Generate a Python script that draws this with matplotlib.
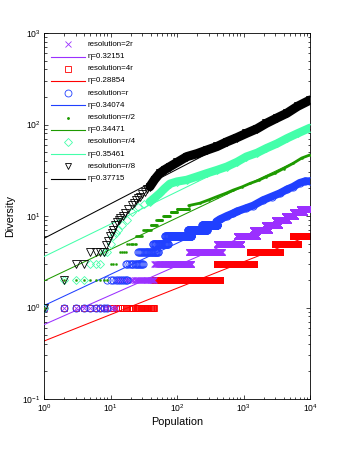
import numpy as np
import matplotlib
matplotlib.use('Agg')
import matplotlib.pyplot as plt
from matplotlib.ticker import LogLocator, NullFormatter

plt.rcParams['font.family'] = ['Liberation Sans', 'DejaVu Sans']
plt.rcParams['mathtext.fontset'] = 'custom'
plt.rcParams['mathtext.rm'] = 'Liberation Sans'

# ---------------- data ----------------
# step parts: diversity level and the first / last population showing that level
red_levels = [1, 2, 3, 4, 5, 6]
red_first = [1, 45, 400, 1250, 3000, 5500]
red_last = [45, 450, 1450, 3600, 6500, 10000]

purple_levels = [1, 2, 3, 4, 5, 6, 7, 8, 9, 10, 11, 12]
purple_first = [1, 12, 45, 150, 400, 800, 1400, 2100, 3000, 4200, 5500, 7000]
purple_last = [12, 45, 165, 470, 920, 1600, 2400, 3400, 4600, 6000, 8000, 10000]

blue_levels = [1, 2, 3, 4, 5, 6, 7, 8]
blue_first = [1, 9, 17, 26, 43, 66, 146, 240]
blue_last = [9, 18, 31, 52, 73, 165, 280, 400]
blue_trail_N = [390, 440, 560, 700, 790, 1100, 1400, 1970, 2660, 3500, 4500, 5600, 7000, 8500, 10000]
blue_trail_D = [8.7, 9.2, 10.0, 10.7, 11.2, 12.2, 13.0, 14.9, 16.3, 17.7, 19.5, 20.9, 23.0, 24.0, 24.0]

green_levels = [1, 2, 3, 4, 5, 6, 7, 8, 9, 10, 11, 12]
green_first = [1, 2, 10, 14, 18, 24, 31, 40, 49, 62, 80, 100]
green_last = [1, 9, 12, 17, 24, 30, 40, 50, 60, 78, 100, 150]
green_trail_N = [150, 220, 300, 400, 550, 700, 950, 1250, 1700, 2200, 3000, 4000, 5600, 7500, 10000]
green_trail_D = [13.0, 13.8, 15.0, 16.3, 17.8, 19.2, 20.8, 22.7, 24.6, 26.9, 29.5, 33.0, 37.7, 43.0, 46.5]

cyan_levels = [1, 2, 3, 4, 5, 6]
cyan_first = [1, 2, 5, 8, 10, 11]
cyan_last = [1, 4, 7, 9, 10, 11]
cyan_trail_N = [12, 13, 15, 17.5, 21, 26, 32, 39, 47, 55, 65, 78, 100, 140, 200, 280, 400, 560, 800, 1100, 1600, 2200, 3200, 4500, 6500, 10000]
cyan_trail_D = [6.5, 7.0, 8.0, 9.0, 11.0, 12.6, 13.5, 14.3, 16.0, 17.7, 20.0, 22.5, 23.8, 24.8, 27.0, 29.3, 31.8, 34.6, 39.0, 44.5, 49.0, 55.0, 62.0, 70.6, 80.0, 92.0]

black_levels = [1, 2, 3, 4]
black_first = [1, 2, 3, 5]
black_last = [1, 2, 4, 8]
black_trail_N = [8.7, 9.3, 9.8, 10.4, 11, 11.7, 12.4, 13.2, 14, 15.2, 16.5, 18.5, 20.8, 22.5, 24, 26, 27.7, 30, 33, 36, 39, 46, 55, 65, 78, 100, 140, 200, 280, 400, 560, 800, 1100, 1600, 2200, 3200, 4500, 6500, 10000]
black_trail_D = [4.8, 5.3, 6.0, 6.5, 7.1, 7.9, 8.7, 9.0, 9.5, 10.0, 10.7, 12.0, 13.2, 14.0, 15.0, 15.7, 16.3, 17.5, 18.5, 19.8, 20.9, 25.0, 29.3, 32.0, 34.6, 38.5, 44.5, 48.0, 52.5, 57.5, 64.6, 72.0, 80.0, 90.0, 103.0, 118.0, 133.0, 158.0, 185.0]

# fitted power laws: exponent (from legend) and prefactor at population 1
labels = ['resolution=2r', 'resolution=4r', 'resolution=r', 'resolution=r/2', 'resolution=r/4', 'resolution=r/8']
eta = [0.32151, 0.28854, 0.34074, 0.34471, 0.35461, 0.37715]
prefactor = [0.65, 0.43, 1.05, 1.95, 3.6, 5.7]

# ---------------- styles ----------------
C_PURPLE = '#9B30FF'
C_RED = '#FF0000'
C_BLUE = '#2040FF'
C_GREEN = '#1E9A00'
C_CYAN = '#44FFAA'
C_BLACK = '#000000'

W, H = 342, 449
fig = plt.figure(figsize=(W / 100, H / 100), dpi=100)
L, R, T, B = 44, 310, 33, 399
ax = fig.add_axes([L / W, 1 - B / H, (R - L) / W, (B - T) / H])
ax.set_xscale('log')
ax.set_yscale('log')
ax.set_xlim(1, 1e4)
ax.set_ylim(0.1, 1000)


def steps(levels, first, last):
    xs, ys = [], []
    for lv, a, b in zip(levels, first, last):
        n = np.arange(int(a), int(b) + 1)
        xs.append(n)
        ys.append(np.full(n.size, lv, dtype=float))
    return np.concatenate(xs), np.concatenate(ys)


def fit_line(k):
    xs = np.array([1.0, 1e4])
    return xs, prefactor[k] * xs ** eta[k]


series = [
    # color, marker, ms, mew, filled, steps, trail, trail lw, fit index
    (C_RED, 's', 4.2, 0.6, False, (red_levels, red_first, red_last), None, 0, 1),
    (C_PURPLE, 'x', 4.2, 0.6, False, (purple_levels, purple_first, purple_last), None, 0, 0),
    (C_BLUE, 'o', 5.2, 0.6, False, (blue_levels, blue_first, blue_last), (blue_trail_N, blue_trail_D), 5.6, 2),
    (C_GREEN, 'o', 1.5, 0.3, True, (green_levels, green_first, green_last), (green_trail_N, green_trail_D), 2.0, 3),
    (C_CYAN, 'D', 4.2, 0.6, False, (cyan_levels, cyan_first, cyan_last), (cyan_trail_N, cyan_trail_D), 6.0, 4),
    (C_BLACK, 'v', 5.2, 0.6, False, (black_levels, black_first, black_last), (black_trail_N, black_trail_D), 6.6, 5),
]

z = 2
for color, mk, ms, mew, filled, st, trail, tlw, k in series:
    x, y = steps(*st)
    ax.plot(x, y, linestyle='none', marker=mk, ms=ms, mew=mew, color=color,
            mfc=color if filled else 'none', zorder=z)
    if trail is not None:
        tN = np.asarray(trail[0], dtype=float)
        tD = np.asarray(trail[1], dtype=float)
        # solid band only where the points are densely packed (beyond ~40)
        dense = tN >= 39
        ax.plot(tN[dense], tD[dense], '-', color=color, lw=tlw, solid_capstyle='round',
                solid_joinstyle='round', zorder=z)
        ax.plot(tN, tD, linestyle='none', marker=mk, ms=ms, mew=mew, color=color,
                mfc=color if filled else 'none', zorder=z)
    lx, ly = fit_line(k)
    ax.plot(lx, ly, '-', color=color, lw=0.75, zorder=z + 0.5)
    z += 1

# ---------------- axes styling ----------------
ax.tick_params(which='both', direction='in', top=True, right=True, width=0.5, labelsize=6.2, pad=2.5)
ax.tick_params(which='major', length=3.2)
ax.tick_params(which='minor', length=1.8)
ax.xaxis.set_major_locator(LogLocator(base=10, numticks=10))
ax.yaxis.set_major_locator(LogLocator(base=10, numticks=10))
ax.xaxis.set_minor_locator(LogLocator(base=10, subs=np.arange(2, 10), numticks=20))
ax.yaxis.set_minor_locator(LogLocator(base=10, subs=np.arange(2, 10), numticks=20))
ax.xaxis.set_minor_formatter(NullFormatter())
ax.yaxis.set_minor_formatter(NullFormatter())
for s in ax.spines.values():
    s.set_linewidth(0.6)
ax.set_xlabel('Population', fontsize=7.8, labelpad=2)
ax.set_ylabel('Diversity', fontsize=7.8, labelpad=5)

# ---------------- legend (MATLAB-like, no frame) ----------------
leg_styles = [(C_PURPLE, 'x', 4.0, False), (C_RED, 's', 4.0, False), (C_BLUE, 'o', 5.0, False),
              (C_GREEN, 'o', 1.4, True), (C_CYAN, 'D', 4.0, False), (C_BLACK, 'v', 5.0, False)]


def ax_pt(px, py):
    return (px - L) / (R - L), (B - py) / (B - T)


for i in range(6):
    color, mk, ms, filled = leg_styles[i]
    y_m = 44.3 + 12.2 * (2 * i)
    y_l = 44.3 + 12.2 * (2 * i + 1)
    mx, my = ax_pt(68, y_m)
    ax.plot([mx], [my], transform=ax.transAxes, linestyle='none', marker=mk, ms=ms, mew=0.6,
            color=color, mfc=color if filled else 'none', clip_on=False, zorder=20)
    x0, yy = ax_pt(51, y_l)
    x1, _ = ax_pt(85, y_l)
    ax.plot([x0, x1], [yy, yy], transform=ax.transAxes, color=color, lw=0.8, clip_on=False, zorder=20)
    tx, ty = ax_pt(88, y_m)
    ax.text(tx, ty, labels[i], transform=ax.transAxes, fontsize=5.7, va='center', ha='left', zorder=20)
    tx, ty = ax_pt(88, y_l)
    ax.text(tx, ty, '\u03b7=%.5f' % eta[i], transform=ax.transAxes, fontsize=5.7, va='center', ha='left', zorder=20)

fig.savefig('out.png', dpi=100)
